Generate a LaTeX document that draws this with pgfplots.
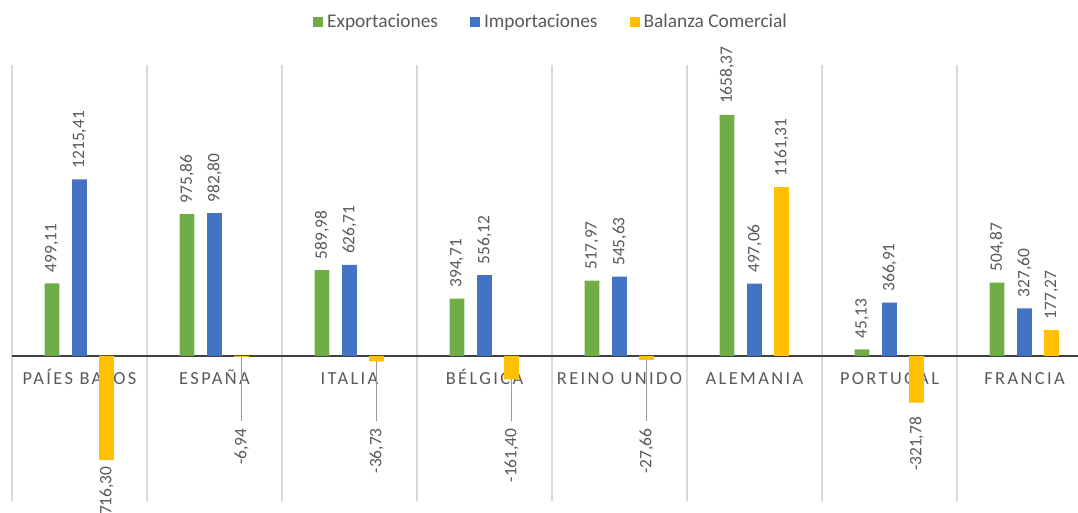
\documentclass[border=0pt]{standalone}
\usepackage{fontspec}
\setmainfont{Carlito}
\usepackage{pgfplots}
\usepackage{pgfplotstable}
\pgfplotsset{compat=1.18}
\pgfplotsset{ybar legend/.style={legend image code/.code={\fill[##1] (0pt,-2.5pt) rectangle (5pt,2.5pt);}}}

\definecolor{verde}{HTML}{70AD47}
\definecolor{azul}{HTML}{4472C4}
\definecolor{amarillo}{HTML}{FFC000}
\definecolor{texto}{HTML}{595959}
\definecolor{rejilla}{HTML}{D9D9D9}
\definecolor{eje}{HTML}{404040}

% lead = length of the leader line under the small negative bars
\pgfplotstableread{
x exp     imp     bal     lead
0 499.11  1215.41 -716.30 0
1 975.86  982.80  -6.94   440.4
2 589.98  626.71  -36.73  410.6
3 394.71  556.12  -161.40 285.9
4 517.97  545.63  -27.66  419.6
5 1658.37 497.06  1161.31 0
6 45.13   366.91  -321.78 0
7 504.87  327.60  177.27  0
}\datos

% label gap and anchor for the Balanza labels, by row
\newcommand\balgap[1]{\ifcase#1 3.0\or 35.5\or 33.3\or 24.3\or 34.0\or 5.3\or 7.0\or 5.3\fi pt}
\newcommand\balanc[1]{\ifcase#1 east\or east\or east\or east\or east\or west\or east\or west\fi}

\begin{document}
\begin{tikzpicture}
\begin{axis}[
  scale only axis, width=533pt, height=218pt,
  xmin=-0.5, xmax=7.3963, ymin=-1000, ymax=2000,
  axis line style={draw=none},
  ytick=\empty,
  xtick={0,...,7},
  xticklabels={PAÍES BAJOS,ESPAÑA,ITALIA,BÉLGICA,REINO UNIDO,ALEMANIA,PORTUGAL,FRANCIA},
  xticklabel style={font=\fontsize{9.2}{11}\selectfont\addfontfeatures{LetterSpace=13},
    text=texto, anchor=base, yshift=58.15pt},
  major tick length=0pt, minor tick length=0pt,
  minor xtick={-0.5,0.5,...,6.5},
  xminorgrids=true,
  minor grid style={draw=rejilla, line width=0.6pt},
  extra y ticks={0}, extra y tick labels={},
  extra y tick style={grid=major, major grid style={draw=eje, line width=0.6pt}},
  ybar, bar width=0.11,
  clip=false,
  legend columns=3,
  legend style={at={(0.5066,1.0986)}, anchor=center, draw=none, fill=none,
    font=\fontsize{9.7}{11}\selectfont, text=texto,
    /tikz/every even column/.append style={column sep=14pt}},
  nodes near coords={\pgfmathprintnumber[fixed,fixed zerofill,precision=2,use comma,1000 sep={},assume math mode=true]{\pgfplotspointmeta}},
  every node near coord/.append style={rotate=90, font=\fontsize{8.7}{10}\selectfont, text=texto, inner ysep=0pt},
]
\addplot[fill=verde, draw=none, bar shift=-0.204,
  nodes near coords style={anchor=west, inner xsep=5.3pt}]
  table[x=x, y=exp]{\datos};
\addlegendentry{Exportaciones}
\addplot[fill=azul, draw=none, bar shift=0,
  nodes near coords style={anchor=west, inner xsep=5.3pt}]
  table[x=x, y=imp]{\datos};
\addlegendentry{Importaciones}
\addplot[fill=amarillo, draw=none, bar shift=0.2,
  visualization depends on={value \coordindex \as \idx},
  nodes near coords style={/utils/exec={\edef\mygap{\balgap{\idx}}\edef\myanc{\balanc{\idx}}},
    anchor=\myanc, inner xsep=\mygap},
  error bars/.cd, y dir=minus, y explicit, error mark=none,
  error bar style={draw=texto!60, line width=0.5pt}]
  table[x=x, y=bal, y error minus=lead]{\datos};
\addlegendentry{Balanza Comercial}
\end{axis}
\pgfresetboundingbox
\path[use as bounding box] (current axis.south west) ++(-6pt,-5.85pt) rectangle ++(539pt,256.5pt);
\end{tikzpicture}
\end{document}
